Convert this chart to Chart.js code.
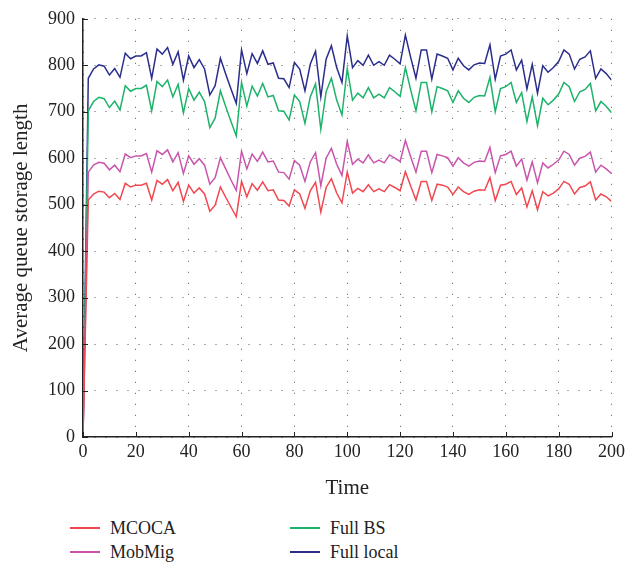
<!DOCTYPE html>
<html>
<head>
<meta charset="utf-8">
<script src="https://cdn.jsdelivr.net/npm/chart.js@4/dist/chart.umd.min.js"></script>
<style>
	body { margin: 0; background: #fff; }
	#wrap { position: relative; width: 629px; height: 571px; }
	#chart_queue { position: absolute; left: 0; top: 0; }
	#legend { position: absolute; left: 0; top: 516px; width: 629px; font-family: 'Liberation Serif', serif; font-size: 18px; color: #222; }
	.item { position: absolute; height: 24px; line-height: 24px; }
	.item span { position: absolute; top: 11px; width: 30px; height: 1.5px; }
	.item b { font-weight: normal; position: absolute; left: 40px; white-space: nowrap; }
</style>
</head>
<body>
<div id="wrap">
	<canvas id="chart_queue" width="629" height="505"></canvas>
	<div id="legend"></div>
</div>
<script>
var times = Array.from({ length: 101 }, function (_, i) { return i * 2; });

var mcoca = [0,
	510, 523, 529, 527, 515, 524, 511, 546, 538, 542,
	542, 546, 510, 552, 544, 554, 530, 548, 507, 542,
	525, 536, 523, 486, 499, 538, 516, 495, 474, 550,
	517, 545, 531, 549, 530, 532, 510, 509, 497, 532,
	523, 492, 530, 548, 484, 537, 556, 525, 504, 570,
	525, 535, 528, 543, 528, 534, 528, 543, 537, 530,
	571, 540, 510, 550, 550, 509, 544, 542, 538, 522,
	538, 528, 522, 529, 532, 531, 558, 509, 542, 544,
	550, 522, 536, 495, 530, 489, 528, 519, 525, 534,
	550, 544, 523, 537, 540, 549, 510, 523, 517, 507];

var mobmig = [0,
	570, 585, 591, 589, 575, 585, 571, 609, 601, 605,
	605, 610, 570, 616, 608, 618, 592, 612, 567, 605,
	587, 599, 585, 544, 558, 601, 577, 553, 531, 615,
	577, 609, 593, 613, 592, 594, 570, 569, 555, 595,
	585, 550, 592, 612, 541, 600, 621, 587, 563, 636,
	587, 598, 590, 607, 590, 596, 590, 607, 600, 593,
	638, 603, 570, 615, 615, 569, 608, 605, 601, 583,
	601, 590, 583, 591, 594, 593, 623, 569, 605, 608,
	615, 583, 598, 553, 592, 547, 590, 579, 587, 596,
	615, 608, 585, 600, 604, 613, 570, 585, 577, 567];

var fullBS = [0,
	702, 722, 731, 728, 709, 723, 704, 756, 744, 750,
	750, 757, 702, 765, 754, 768, 732, 759, 698, 750,
	725, 742, 722, 666, 686, 745, 711, 679, 648, 763,
	712, 755, 734, 761, 732, 735, 702, 701, 682, 736,
	722, 675, 732, 760, 662, 743, 772, 725, 693, 793,
	725, 740, 730, 752, 730, 738, 730, 752, 743, 733,
	795, 747, 702, 763, 763, 700, 754, 750, 745, 720,
	745, 729, 720, 731, 735, 734, 774, 700, 750, 754,
	763, 720, 741, 679, 732, 670, 729, 715, 725, 738,
	763, 754, 722, 743, 748, 761, 702, 722, 712, 698];

var fullLocal = [0,
	772, 792, 801, 798, 779, 793, 774, 826, 814, 820,
	820, 827, 772, 835, 824, 838, 802, 829, 768, 820,
	795, 812, 792, 736, 756, 815, 781, 749, 718, 833,
	782, 825, 804, 831, 802, 805, 772, 771, 752, 806,
	792, 745, 802, 830, 732, 813, 842, 795, 763, 863,
	795, 810, 800, 822, 800, 808, 800, 822, 813, 803,
	865, 817, 772, 833, 833, 770, 824, 820, 815, 790,
	815, 799, 790, 801, 805, 804, 844, 770, 820, 824,
	833, 790, 811, 749, 802, 740, 799, 785, 795, 808,
	833, 824, 792, 813, 818, 831, 772, 792, 782, 768];

var seriesNames = ['MCOCA', 'MobMig', 'Full BS', 'Full local'];
var seriesColors = ['#f04850', '#c855ab', '#1cb26a', '#2a2d8a'];
var seriesValues = [mcoca, mobmig, fullBS, fullLocal];

function points(values) {
	return values.map(function (v, i) { return { x: times[i], y: v }; });
}

var serif = { family: "'Liberation Serif', 'Times New Roman', serif", size: 18 };
var serifTitle = { family: "'Liberation Serif', 'Times New Roman', serif", size: 21 };

// small inward tick marks on the two axes
var innerTicks = {
	id: 'innerTicks',
	afterDraw: function (chart) {
		var ctx = chart.ctx;
		var xs = chart.scales.x, ys = chart.scales.y;
		var area = chart.chartArea;
		ctx.save();
		ctx.strokeStyle = '#222';
		ctx.lineWidth = 1;
		ctx.beginPath();
		xs.ticks.forEach(function (t) {
			var px = Math.round(xs.getPixelForValue(t.value)) + 0.5;
			ctx.moveTo(px, area.bottom);
			ctx.lineTo(px, area.bottom - 5);
		});
		ys.ticks.forEach(function (t) {
			var py = Math.round(ys.getPixelForValue(t.value)) + 0.5;
			ctx.moveTo(area.left, py);
			ctx.lineTo(area.left + 5, py);
		});
		ctx.stroke();
		ctx.restore();
	}
};

var chart_queue = new Chart(
	document.getElementById('chart_queue'),
	{
		type: 'line',
		data: {
			datasets: seriesNames.map(function (name, i) {
				return {
					label: name,
					data: points(seriesValues[i]),
					borderColor: seriesColors[i],
					backgroundColor: seriesColors[i],
					borderWidth: 1.5,
					pointRadius: 0,
					tension: 0,
				};
			})
		},
		options: {
			responsive: false,
			animation: false,
			layout: { padding: { top: 18, right: 16, left: 0, bottom: 0 } },
			plugins: {
				legend: { display: false },
				tooltip: { enabled: false },
			},
			scales: {
				x: {
					type: 'linear',
					min: 0,
					max: 200,
					ticks: { stepSize: 20, color: '#222', font: serif, padding: 4 },
					grid: { color: '#555', drawTicks: false },
					border: { display: true, color: '#222', width: 1.5, dash: [1, 10] },
					title: { display: true, text: 'Time', color: '#222', font: serifTitle, padding: { top: 3 } },
					afterFit: function (s) { s.height = 68; },
				},
				y: {
					min: 0,
					max: 900,
					ticks: { stepSize: 100, color: '#222', font: serif, padding: 8 },
					grid: { color: '#555', drawTicks: false },
					border: { display: true, color: '#222', width: 1.5, dash: [1, 10] },
					title: { display: true, text: 'Average queue storage length', color: '#222', font: serifTitle, padding: { top: 9, bottom: 2 } },
					afterFit: function (s) { s.width = 83; },
				}
			}
		},
		plugins: [innerTicks]
	}
);

// legend in two columns below the plot
var legend = document.getElementById('legend');
var spots = [[70, 0], [70, 24], [290, 0], [290, 24]];
seriesNames.forEach(function (name, i) {
	var el = document.createElement('div');
	el.className = 'item';
	el.style.left = spots[i][0] + 'px';
	el.style.top = spots[i][1] + 'px';
	el.innerHTML = '<span style="background:' + seriesColors[i] + '"></span><b>' + name + '</b>';
	legend.appendChild(el);
});
</script>
</body>
</html>
